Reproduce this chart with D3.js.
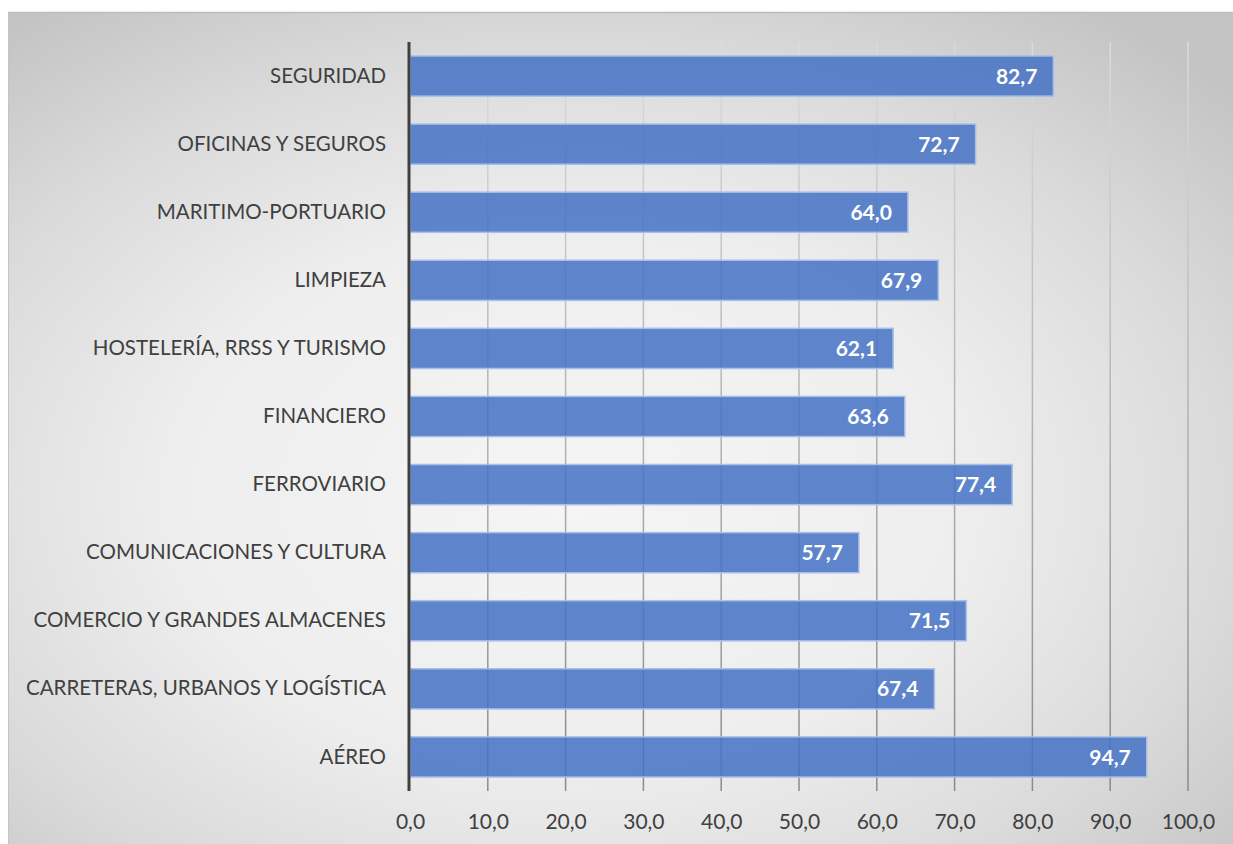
<!DOCTYPE html>
<html>
<head>
<meta charset="utf-8">
<script src="https://cdn.jsdelivr.net/npm/d3@7"></script>
<style>
  html, body { margin: 0; padding: 0; background: #ffffff; }
  svg { display: block; }
</style>
</head>
<body>
<svg id="chart" width="1233" height="844"></svg>
<script>
const categories = [
  "SEGURIDAD",
  "OFICINAS Y SEGUROS",
  "MARITIMO-PORTUARIO",
  "LIMPIEZA",
  "HOSTELERÍA, RRSS Y TURISMO",
  "FINANCIERO",
  "FERROVIARIO",
  "COMUNICACIONES Y CULTURA",
  "COMERCIO Y GRANDES ALMACENES",
  "CARRETERAS, URBANOS Y LOGÍSTICA",
  "AÉREO"
];
const values = [82.7, 72.7, 64.0, 67.9, 62.1, 63.6, 77.4, 57.7, 71.5, 67.4, 94.7];
const tickValues = [0, 10, 20, 30, 40, 50, 60, 70, 80, 90, 100];

const locale = d3.formatLocale({ decimal: ",", thousands: ".", grouping: [3], currency: ["", "€"] });
const fmt = locale.format(".1f");

const svg = d3.select("#chart");
const W = 1233, H = 844;
const font = "Lato, 'Open Sans', sans-serif";

const defs = svg.append("defs");
const bg = defs.append("radialGradient").attr("id", "bgGrad")
  .attr("cx", 0.46).attr("cy", 0.58).attr("r", 0.72)
  .attr("fx", 0.46).attr("fy", 0.58);
bg.append("stop").attr("offset", 0).attr("stop-color", "#f5f5f5");
bg.append("stop").attr("offset", 0.45).attr("stop-color", "#eeeeee");
bg.append("stop").attr("offset", 0.75).attr("stop-color", "#dadada");
bg.append("stop").attr("offset", 1).attr("stop-color", "#c4c4c4");

const gg = defs.append("linearGradient").attr("id", "gridGrad")
  .attr("gradientUnits", "userSpaceOnUse")
  .attr("x1", 0).attr("y1", 42).attr("x2", 0).attr("y2", 791);
gg.append("stop").attr("offset", 0).attr("stop-color", "#dcdcdc");
gg.append("stop").attr("offset", 1).attr("stop-color", "#8a8a8a");

svg.append("rect")
  .attr("x", 8).attr("y", 12).attr("width", W - 8).attr("height", H - 12)
  .attr("fill", "url(#bgGrad)");
svg.append("line").attr("x1", 8).attr("x2", W).attr("y1", 12.5).attr("y2", 12.5)
  .attr("stroke", "#bcbcbc").attr("stroke-width", 1.5);
svg.append("line").attr("x1", 8.5).attr("x2", 8.5).attr("y1", 12).attr("y2", H)
  .attr("stroke", "#c4c4c4").attr("stroke-width", 1);

const x = d3.scaleLinear().domain([0, 100]).range([410, 1188]);
const y = d3.scaleBand().domain(categories).range([42, 791])
  .paddingInner(0.41).paddingOuter(0.205);

// gridlines
svg.append("g").selectAll("line")
  .data(tickValues.filter(d => d > 0))
  .join("line")
  .attr("x1", d => x(d)).attr("x2", d => x(d))
  .attr("y1", 42).attr("y2", 791)
  .attr("stroke", "url(#gridGrad)").attr("stroke-width", 1.5);

// x axis labels
const xAxis = d3.axisBottom(x).tickValues(tickValues).tickFormat(fmt).tickSize(0).tickPadding(0);
const gx = svg.append("g").attr("transform", "translate(0,813)").call(xAxis);
gx.select(".domain").remove();
gx.selectAll("text")
  .attr("font-family", font).attr("font-size", 21).attr("fill", "#404040")
  .attr("dy", "0.75em");

// bars
svg.append("g").selectAll("rect")
  .data(values)
  .join("rect")
  .attr("x", x(0))
  .attr("y", (d, i) => y(categories[i]))
  .attr("width", d => x(d) - x(0))
  .attr("height", y.bandwidth())
  .attr("fill", "#4472c4").attr("fill-opacity", 0.85)
  .attr("stroke", "#a8bfe8").attr("stroke-width", 1.5);

// value labels
svg.append("g").selectAll("text")
  .data(values)
  .join("text")
  .attr("x", d => x(d) - 16)
  .attr("y", (d, i) => y(categories[i]) + y.bandwidth() / 2)
  .attr("dy", "0.36em")
  .attr("text-anchor", "end")
  .attr("font-family", font).attr("font-size", 21).attr("font-weight", "bold")
  .attr("fill", "#ffffff")
  .text(d => fmt(d));

// y axis
const yAxis = d3.axisLeft(y).tickSize(0).tickPadding(24);
const gy = svg.append("g").attr("transform", `translate(${x(0)},0)`).call(yAxis);
gy.select(".domain").remove();
gy.selectAll("text")
  .attr("font-family", font).attr("font-size", 20.5).attr("fill", "#404040");

svg.append("line")
  .attr("x1", x(0) - 1).attr("x2", x(0) - 1)
  .attr("y1", 42).attr("y2", 791)
  .attr("stroke", "#404040").attr("stroke-width", 3);
</script>
</body>
</html>
